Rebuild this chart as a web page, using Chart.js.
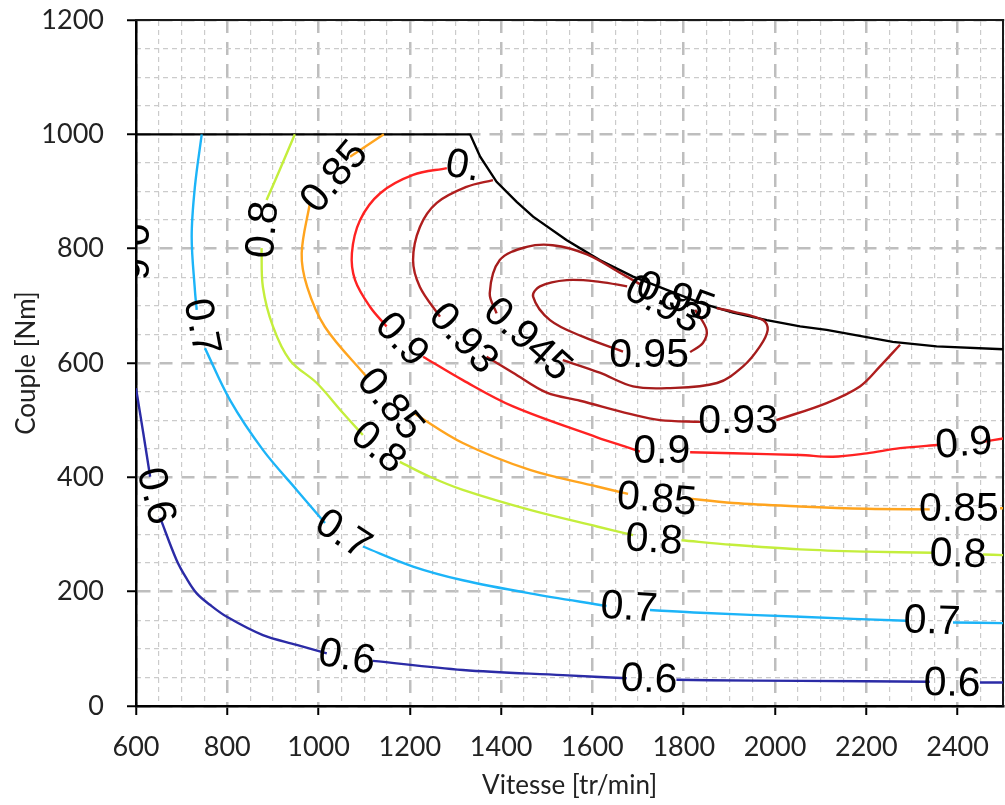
<!DOCTYPE html>
<html>
<head>
<meta charset="utf-8">
<script src="https://cdn.jsdelivr.net/npm/chart.js@4.4.1/dist/chart.umd.min.js"></script>
<style>
  html, body { margin: 0; padding: 0; background: #fff; }
  canvas { display: block; }
</style>
</head>
<body>
<canvas id="c" width="1005" height="805"></canvas>
<script>
// ---- data (x: Vitesse [tr/min], y: Couple [Nm]); null = break of the line around a label ----
const xTicks = [600, 800, 1000, 1200, 1400, 1600, 1800, 2000, 2200, 2400];
const yTicks = [0, 200, 400, 600, 800, 1000, 1200];

const envX = [600, 1332, 1354, 1390, 1434, 1470, 1543, 1616, 1689, 1763, 1836, 1908, 1982, 2055, 2113, 2258, 2354, 2500];
const envY = [1000, 1000, 961, 917, 882, 856, 815, 780, 751, 728, 705, 688, 675, 664, 658, 637, 629, 624];

const eff060X = [600, 616, 631, null, 653, 689, 710, 733, 762, 799, 878, 952, 1018, null, 1119, 1316, 1535, 1675, null, 1784, 1857, 2055, 2339, null, 2449, 2500];
const eff060Y = [556, 477, 401, null, 329, 255, 224, 197, 177, 156, 124, 107, 92, null, 79, 63, 54, 48.5, null, 46, 45, 44, 42.5, null, 41, 41];

const eff070X = [744, 729, 722, 729, 733, null, 751, 806, 878, 952, 1014, null, 1097, 1207, 1316, 1463, 1631, null, 1726, 1836, 2055, 2288, null, 2390, 2500];
const eff070Y = [1000, 908, 821, 728, 693, null, 626, 535, 448, 378, 320, null, 279, 244, 220, 197, 175, null, 168, 163, 156, 149, null, 146, 145];

const eff080X = [948, 915, 886, null, 875, 878, 900, 937, 996, 1053, 1097, null, 1178, 1244, 1316, 1463, 1610, 1689, null, 1795, 1906, 2055, 2201, 2346, null, 2455, 2500];
const eff080Y = [1000, 938, 885, null, 801, 733, 664, 605, 565, 513, 474, null, 427, 401, 378, 343, 314, 299, null, 290, 282, 274, 270, 268, null, 265, 264];

const eff085X = [1143, 1069, null, 981, 963, 975, 1014, 1105, null, 1207, 1316, 1463, 1610, 1678, null, 1798, 1908, 2055, 2201, 2339, null, 2493, 2500];
const eff085Y = [1000, 961, null, 880, 792, 733, 663, 576, null, 513, 460, 413, 384, 371, null, 364, 355, 349, 345, 344, null, 346, 346];

const eff090X = [1281, 1207, 1135, 1091, 1073, 1080, 1113, 1149, null, 1229, 1316, 1426, 1610, 1682, 1704, null, 1814, 1908, 2055, 2127, 2201, 2274, 2361, null, 2455, 2500];
const eff090Y = [941, 929, 897, 850, 792, 745, 698, 664, null, 611, 570, 524, 470, 451, 445, null, 444, 442, 439, 436, 442, 451, 457, null, 462, 468];

const eff093X = [1382, 1324, 1259, 1222, 1207, 1222, 1266, null, 1368, 1426, 1500, 1573, 1682, 1748, 1836, null, 2003, 2113, 2186, 2230, 2274];
const eff093Y = [920, 908, 880, 838, 780, 733, 681, null, 611, 583, 548, 534, 511, 500, 497, null, 500, 530, 559, 594, 632];

const eff0945X = [1704, 1660, 1588, 1513, 1456, 1397, 1375, 1390, null, 1535, 1616, 1689, 1763, 1873, 1930, 1967, 1984, 1974, 1908, 1872];
const eff0945Y = [738, 758, 790, 806, 803, 780, 722, 687, null, 605, 583, 559, 556, 565, 594, 629, 658, 675, 690, 696];

const eff095X = [1667, 1579, 1507, 1470, 1485, 1544, 1616, 1676, null, 1825, 1850, 1842, 1814];
const eff095Y = [620, 646, 675, 716, 734, 745, 742, 734, null, 693, 658, 635, 619];

// contour labels (text, position in data units, angle in degrees)
const labelText  = ['0.6','0.6','0.6','0.6','0.6','0.7','0.7','0.7','0.7','0.8','0.8','0.8','0.8','0.85','0.85','0.85','0.85','0.','0.9','0.9','0.9','0.93','0.93','0.945','0.95','0.93','0.95'];
const labelX     = [642, 1062, 1724, 2388, 591, 742, 1053, 1680, 2344, 880, 1130, 1735, 2401, 1036, 1156, 1741, 2403, 1316, 1181, 1752, 2414, 1316, 1919, 1457, 1724, 1754, 1781];
const labelY     = [367, 84, 45, 38, 794, 663, 299, 171, 147, 833, 451, 289, 264, 925, 527, 360, 343, 943, 640, 444, 458, 642, 497, 640, 612, 701, 714];
const labelAngle = [76, 10, 2, 1, 90, 79, 33, 4, 2, -85, 40, 4, 2, -50, 50, 5, 0, 10, 47, 0, -5, 47, 0, 42, 0, 28, 20];

// ---- helpers ----
function pts(xs, ys) {
  return xs.map((x, i) => (x === null ? { x: null, y: null } : { x: x, y: ys[i] }));
}
function series(xs, ys, color, tension) {
  return {
    data: pts(xs, ys),
    borderColor: color,
    borderWidth: 2.4,
    pointRadius: 0,
    fill: false,
    spanGaps: false,
    tension: tension
  };
}

const contourLabels = {
  id: 'contourLabels',
  afterDatasetsDraw(chart) {
    const { ctx, chartArea: a, scales } = chart;
    ctx.save();
    ctx.beginPath();
    ctx.rect(a.left, a.top, a.right - a.left, a.bottom - a.top);
    ctx.clip();
    ctx.font = '41px "Liberation Sans", Arial, sans-serif';
    ctx.fillStyle = '#000';
    ctx.textAlign = 'center';
    ctx.textBaseline = 'middle';
    labelText.forEach((t, i) => {
      ctx.save();
      ctx.translate(scales.x.getPixelForValue(labelX[i]), scales.y.getPixelForValue(labelY[i]));
      ctx.rotate(labelAngle[i] * Math.PI / 180);
      ctx.fillText(t, 0, 0);
      ctx.restore();
    });
    ctx.restore();
  }
};

const MAJOR = '#BEBEBE';
const MINOR = '#CBCBCB';
const tickFont = { family: 'Lato, "Open Sans", sans-serif', size: 27 };
const titleFont = { family: 'Lato, "Open Sans", sans-serif', size: 26 };
const plain = (v) => String(v);

new Chart(document.getElementById('c'), {
  type: 'line',
  data: {
    datasets: [
      series(eff060X, eff060Y, '#2B2BA6', 0.35),
      series(eff070X, eff070Y, '#1CB4F8', 0.35),
      series(eff080X, eff080Y, '#C4EE3C', 0.35),
      series(eff085X, eff085Y, '#FFA41E', 0.35),
      series(eff090X, eff090Y, '#FF2222', 0.35),
      series(eff093X, eff093Y, '#B01E1E', 0.35),
      series(eff0945X, eff0945Y, '#A51C1C', 0.35),
      series(eff095X, eff095Y, '#A51C1C', 0.35),
      series(envX, envY, '#000000', 0)
    ]
  },
  options: {
    responsive: false,
    animation: false,
    devicePixelRatio: 1,
    layout: { padding: { left: 0, right: 1, top: 2, bottom: 0 } },
    plugins: { legend: { display: false }, tooltip: { enabled: false } },
    scales: {
      x: {
        type: 'linear', position: 'bottom', min: 600, max: 2500,
        afterFit: (s) => { s.height = 99; },
        afterBuildTicks: (s) => { s.ticks = xTicks.map(v => ({ value: v })); },
        ticks: { stepSize: 200, includeBounds: false, autoSkip: false, maxRotation: 0, padding: 16, color: '#222', font: tickFont, callback: plain },
        grid: { color: MAJOR, lineWidth: 2.5, tickLength: 9, tickColor: '#000', tickWidth: 2, tickBorderDash: [] },
        border: { display: true, color: '#000', width: 2.5, dash: [13, 9] },
        title: { display: true, text: 'Vitesse [tr/min]', color: '#222', font: titleFont, padding: { top: 0, bottom: 4 } }
      },
      y: {
        type: 'linear', position: 'left', min: 0, max: 1200,
        afterFit: (s) => { s.width = 136; s.paddingTop = 20; s.paddingBottom = 0; },
        afterBuildTicks: (s) => { s.ticks = yTicks.map(v => ({ value: v })); },
        ticks: { stepSize: 200, autoSkip: false, padding: 23, color: '#222', font: tickFont, callback: plain },
        grid: { color: MAJOR, lineWidth: 2.5, tickLength: 9, tickColor: '#000', tickWidth: 2, tickBorderDash: [] },
        border: { display: true, color: '#000', width: 2.5, dash: [13, 9] },
        title: { display: true, text: 'Couple [Nm]', color: '#222', font: titleFont, padding: { top: 11, bottom: 0 } }
      },
      x2: {
        type: 'linear', position: 'top', min: 600, max: 2500,
        afterFit: (s) => { s.height = 0; },
        ticks: { display: false, stepSize: 50 },
        grid: { color: (c) => (c.tick && c.tick.value % 200 === 0 ? 'rgba(0,0,0,0)' : MINOR), lineWidth: 1.2, drawTicks: false },
        border: { display: true, color: '#1a1a1a', width: 2, dash: [5, 4] }
      },
      y2: {
        type: 'linear', position: 'right', min: 0, max: 1200,
        afterFit: (s) => { s.width = 0; s.paddingTop = 0; s.paddingBottom = 0; },
        ticks: { display: false, stepSize: 50 },
        grid: { color: (c) => (c.tick && c.tick.value % 200 === 0 ? 'rgba(0,0,0,0)' : MINOR), lineWidth: 1.2, drawTicks: false },
        border: { display: true, color: '#1a1a1a', width: 2, dash: [5, 4] }
      }
    }
  },
  plugins: [contourLabels]
});
</script>
</body>
</html>
